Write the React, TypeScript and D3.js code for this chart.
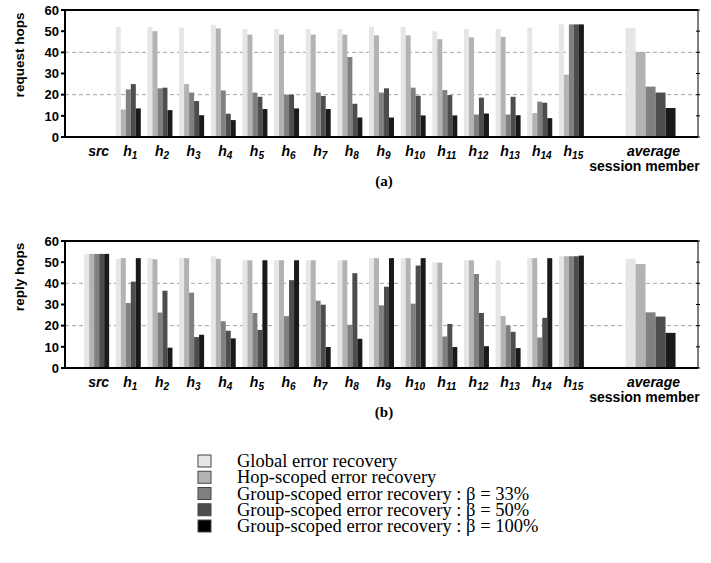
import React, { useEffect } from "react";
import * as d3 from "d3";

const width = 711;
const height = 563;
const margin = { left: 65, right: 13 };

// categories: src, h1..h15, average
const hopNames = ["src", "h1", "h2", "h3", "h4", "h5", "h6", "h7", "h8", "h9", "h10", "h11", "h12", "h13", "h14", "h15", "average"];

const seriesNames = [
  "Global error recovery",
  "Hop-scoped error recovery",
  "Group-scoped error recovery : \u03b2 = 33%",
  "Group-scoped error recovery : \u03b2 = 50%",
  "Group-scoped error recovery : \u03b2 = 100%"
];
const seriesColors = ["#e6e6e6", "#b3b3b3", "#808080", "#4d4d4d", "#1a1a1a"];

// (a) request hops
const reqGlobal = [0, 52, 52, 51.7, 53, 51, 51, 51, 51, 52, 52, 50, 51, 51, 51.7, 53.2, 51.6];
const reqHop = [0, 13, 50, 25, 51.3, 48.4, 48.4, 48.4, 48.4, 48, 48, 46.2, 47.1, 47.3, 11.3, 29.4, 40.2];
const reqG33 = [0, 22.5, 23, 21, 22, 21, 20, 21, 37.8, 21, 23.3, 22.2, 10.6, 10.6, 16.7, 53.2, 23.8];
const reqG50 = [0, 25, 23.3, 17, 11, 19, 20, 19.4, 15.7, 23, 19.5, 19.8, 18.6, 19, 16.2, 53.2, 21];
const reqG100 = [0, 13.5, 12.7, 10.3, 8, 13.2, 13.5, 13.2, 9.2, 9.2, 10.2, 10.2, 11.1, 10.3, 8.9, 53.2, 13.7];

// (b) reply hops
const repGlobal = [53.9, 51.6, 51.9, 51.9, 52.8, 50.9, 50.9, 50.9, 50.9, 51.9, 51.9, 50, 50.9, 50.8, 51.9, 52.8, 51.6];
const repHop = [53.9, 51.9, 51.4, 51.9, 51.6, 50.9, 50.9, 50.9, 50.9, 51.9, 51.9, 49.8, 50.9, 24.6, 51.9, 52.8, 49.1];
const repG33 = [53.9, 30.7, 26.2, 35.6, 22.1, 26, 24.5, 31.8, 20.4, 29.6, 30.4, 14.9, 44.4, 20.1, 14.4, 52.8, 26.3];
const repG50 = [53.9, 40.8, 36.5, 14.6, 17.6, 18, 41.5, 29.9, 44.8, 38.4, 48.4, 20.8, 26, 17.1, 23.7, 52.8, 24.3];
const repG100 = [53.9, 51.9, 9.6, 15.7, 14, 50.9, 50.9, 9.9, 13.8, 51.9, 51.9, 9.9, 10.3, 9.4, 51.9, 53.1, 16.6];

const yTicks = [0, 10, 20, 30, 40, 50, 60];
const gridTicks = [20, 40];

const sans = "'Liberation Sans', Arial, sans-serif";
const serif = "'Liberation Serif', 'Times New Roman', serif";

// slot position of each category (average sits after a gap and is twice as wide)
const slotOf = (i: number) => (i < 16 ? i : 17.5);
const x = d3.scaleLinear().domain([-1, 19]).range([margin.left, width - margin.right]);
const slotW = x(1) - x(0);

function HopLabel({ name, cx, y }: { name: string; cx: number; y: number }) {
  if (name === "average") {
    return (
      <g fontFamily={sans} fontWeight="bold" fontSize={14}>
        <text x={cx + 3} y={y} textAnchor="middle" fontStyle="italic">average</text>
        <text x={cx - 6} y={y + 15} textAnchor="middle">session member</text>
      </g>
    );
  }
  if (name === "src") {
    return (
      <text x={cx + 2} y={y} textAnchor="middle" fontFamily={sans} fontWeight="bold" fontStyle="italic" fontSize={14}>src</text>
    );
  }
  return (
    <text x={cx + 2} y={y} textAnchor="middle" fontFamily={sans} fontWeight="bold" fontStyle="italic" fontSize={14}>
      h<tspan fontSize={10} dy={3}>{name.slice(1)}</tspan>
    </text>
  );
}

function Panel({ top, series, title, titleY, tag }: { top: number; series: number[][]; title: string; titleY: number; tag: string }) {
  const y = d3.scaleLinear().domain([0, 60]).range([top + 127, top]);
  const x0 = margin.left;
  const x1 = width - margin.right;
  return (
    <g>
      {gridTicks.map(t => (
        <line key={t} x1={x0} x2={x1} y1={y(t)} y2={y(t)} stroke="#8c8c8c" strokeWidth={0.8} strokeDasharray="4,3" />
      ))}
      {hopNames.map((name, i) => {
        const cx = x(slotOf(i));
        const gw = (i < 16 ? 0.79 : 1.58) * slotW;
        const bw = gw / series.length;
        return (
          <g key={name}>
            {series.map((s, k) => (
              <rect key={k} x={cx - gw / 2 + k * bw} y={y(s[i])} width={bw} height={y(0) - y(s[i])} fill={seriesColors[k]} />
            ))}
            <HopLabel name={name} cx={cx} y={y(0) + 19} />
          </g>
        );
      })}
      {/* frame */}
      <line x1={x0} x2={x1} y1={y(60)} y2={y(60)} stroke="#000" strokeWidth={2} />
      <line x1={x0} x2={x1} y1={y(0)} y2={y(0)} stroke="#000" strokeWidth={2} />
      <line x1={x0} x2={x0} y1={y(0)} y2={y(60)} stroke="#000" strokeWidth={2} />
      <line x1={x1} x2={x1} y1={y(0)} y2={y(60)} stroke="#000" strokeWidth={1} />
      {yTicks.map(t => (
        <g key={t}>
          <line x1={x0 - 4} x2={x0} y1={y(t)} y2={y(t)} stroke="#000" strokeWidth={2} />
          <line x1={x1 - 2} x2={x1 + 2} y1={y(t)} y2={y(t)} stroke="#000" strokeWidth={1} />
          <text x={x0 - 6} y={y(t)} dy="0.36em" textAnchor="end" fontFamily={sans} fontWeight="bold" fontSize={13}>{t}</text>
        </g>
      ))}
      <text transform={`translate(19,${titleY}) rotate(-90)`} textAnchor="middle" dy="0.36em" fontFamily={sans} fontWeight="bold" fontSize={13.5}>{title}</text>
      <text x={384} y={y(0) + 49} textAnchor="middle" fontFamily={serif} fontWeight="bold" fontSize={15}>{tag}</text>
    </g>
  );
}

export default function App() {
  useEffect(() => {
    document.body.style.margin = "0";
  }, []);

  const legendY = d3.scaleLinear().domain([0, 4]).range([467, 532]);

  return (
    <svg width={width} height={height} style={{ display: "block", background: "#fff" }}>
      <Panel top={10} series={[reqGlobal, reqHop, reqG33, reqG50, reqG100]} title="request hops" titleY={55} tag="(a)" />
      <Panel top={241} series={[repGlobal, repHop, repG33, repG50, repG100]} title="reply hops" titleY={277} tag="(b)" />
      <g>
        {seriesNames.map((name, k) => (
          <g key={name}>
            <rect x={198} y={legendY(k) - 12} width={13} height={12} fill={k === 4 ? "#000" : seriesColors[k]} stroke="#444" strokeWidth={1} />
            <text x={237} y={legendY(k)} fontFamily={serif} fontSize={18.5}>{name}</text>
          </g>
        ))}
      </g>
    </svg>
  );
}
